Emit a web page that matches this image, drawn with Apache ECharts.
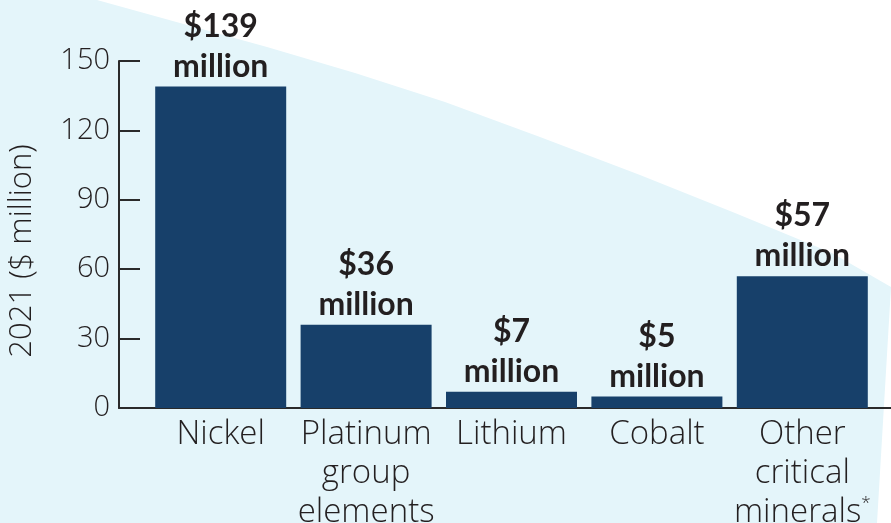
<!DOCTYPE html>
<html>
<head>
<meta charset="utf-8">
<script src="https://cdn.jsdelivr.net/npm/echarts@6/dist/echarts.min.js"></script>
<style>html,body{margin:0;padding:0;background:#fff;}#c{width:891px;height:523px;}</style>
</head>
<body>
<div id="c"></div>
<script>
var categories = ['Nickel', 'Platinum\ngroup\nelements', 'Lithium', 'Cobalt', 'Other\ncritical\nminerals{sup|*}'];
var values = [139, 36, 7, 5, 57];
var yTicks = [0, 30, 60, 90, 120, 150];
var yAxisName = '2021 ($ million)';

var chart = echarts.init(document.getElementById('c'), null, {renderer: 'canvas'});
var txt = '#231f20';
var lightFam = '"Open Sans", Lato, sans-serif';
var boldFam = 'Lato, "Open Sans", sans-serif';
var option = {
  backgroundColor: '#ffffff',
  animation: false,
  graphic: [{
    type: 'polygon',
    z: -10,
    silent: true,
    shape: {
      points: [[0,0],[97,0],[180,23],[267,47],[355,73],[445,102],[540,137],[640,175],[735,213],[832,253],[891,287],[877,523],[0,523]]
    },
    style: {fill: '#e4f5fa'}
  }],
  grid: [
    {left: 148, right: 16, top: 61, bottom: 115, outerBoundsMode: 'none', containLabel: false},
    {left: 119, right: 0, top: 61, bottom: 115, outerBoundsMode: 'none', containLabel: false}
  ],
  xAxis: [
    {
      type: 'category', gridIndex: 0, data: categories,
      axisLine: {show: false}, axisTick: {show: false},
      axisLabel: {
        color: txt, fontSize: 33, fontWeight: 300, fontFamily: lightFam,
        lineHeight: 39, margin: 7, interval: 0,
        rich: {sup: {fontSize: 17, color: txt, fontFamily: lightFam, verticalAlign: 'top', lineHeight: 39, padding: [2,0,0,0]}}
      }
    },
    {
      type: 'value', gridIndex: 1, min: 0, max: 1,
      axisLine: {show: true, lineStyle: {color: '#2a2a2a', width: 2}},
      axisTick: {show: false}, axisLabel: {show: false}, splitLine: {show: false}
    }
  ],
  yAxis: [
    {
      type: 'value', gridIndex: 0, min: 0, max: 150, interval: 30,
      show: false, splitLine: {show: false}
    },
    {
      type: 'value', gridIndex: 1, min: 0, max: 150, interval: 30,
      name: yAxisName, nameLocation: 'middle', nameGap: 81,
      nameTextStyle: {color: txt, fontSize: 31, fontWeight: 300, fontFamily: lightFam, padding: [0, 33, 0, 0]},
      axisLine: {show: true, lineStyle: {color: '#2a2a2a', width: 2}},
      axisTick: {show: true, inside: true, length: 21, lineStyle: {color: '#2a2a2a', width: 2}},
      axisLabel: {
        color: txt, fontSize: 29, fontWeight: 300, fontFamily: lightFam, margin: 9,
        customValues: yTicks
      },
      splitLine: {show: false}
    }
  ],
  series: [{
    type: 'bar', xAxisIndex: 0, yAxisIndex: 0,
    data: values, barWidth: 131,
    itemStyle: {color: '#17406a'},
    label: {
      show: true, position: 'top', distance: 0,
      color: txt, fontSize: 32, fontWeight: 'bold', fontFamily: boldFam, lineHeight: 40,
      formatter: function (p) { return '$' + p.value + '\nmillion'; }
    }
  }]
};
chart.setOption(option);
</script>
</body>
</html>
